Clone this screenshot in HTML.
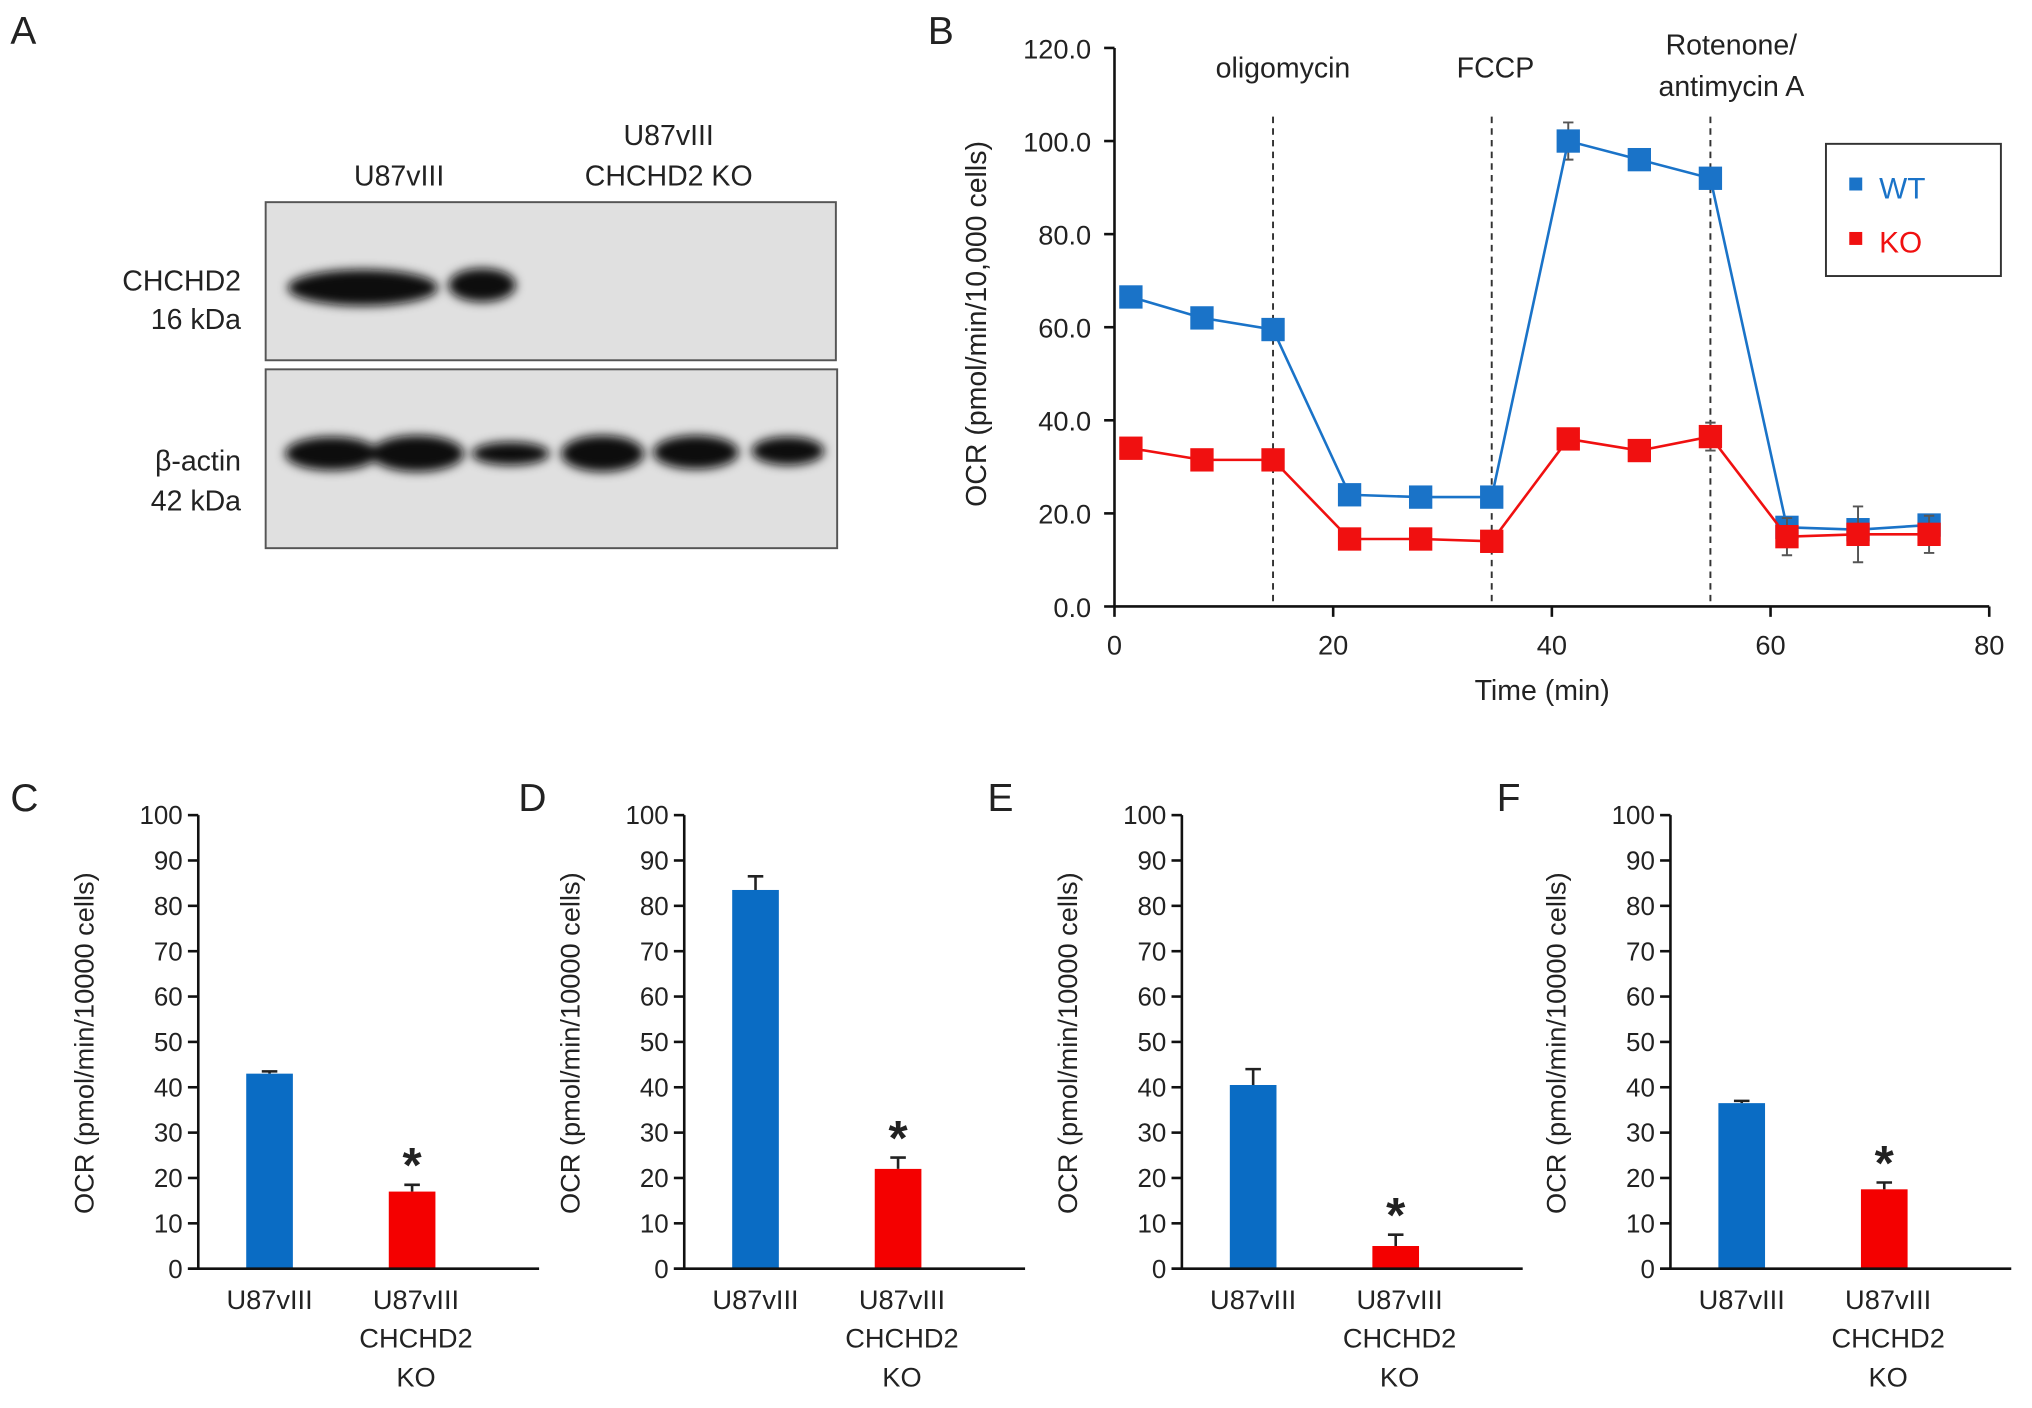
<!DOCTYPE html>
<html><head><meta charset="utf-8"><style>
html,body{margin:0;padding:0;background:#fff;}
svg{display:block;}
text{font-family:"Liberation Sans",sans-serif;fill:#222;}
</style></head><body>
<svg id="fig" width="2032" height="1408" viewBox="0 0 1568 1086.5" preserveAspectRatio="none">
<defs>
<filter id="blur" x="-20%" y="-50%" width="140%" height="200%"><feGaussianBlur stdDeviation="4"/></filter>
</defs>
<!-- Panel A -->
<g>
<text x="8" y="34" font-size="30">A</text>
<text x="308" y="143" font-size="22" text-anchor="middle">U87vIII</text>
<text x="516" y="112" font-size="22" text-anchor="middle">U87vIII</text>
<text x="516" y="143" font-size="22" text-anchor="middle">CHCHD2 KO</text>
<rect x="205" y="156" width="440" height="122" fill="#e0e0e0" stroke="#555" stroke-width="1.5"/>
<rect x="205" y="285" width="441" height="138" fill="#e0e0e0" stroke="#555" stroke-width="1.5"/>
<g filter="url(#blur)" fill="#0a0a0a">
<ellipse cx="280" cy="222" rx="58" ry="14"/><ellipse cx="372" cy="220" rx="26" ry="13"/>
</g>
<g filter="url(#blur)" fill="#0a0a0a">
<ellipse cx="256" cy="350" rx="36" ry="13"/><ellipse cx="322" cy="350" rx="36" ry="14"/><ellipse cx="394" cy="350" rx="30" ry="9"/>
<ellipse cx="465" cy="350" rx="32" ry="14"/><ellipse cx="537" cy="349" rx="33" ry="13"/><ellipse cx="608" cy="348" rx="28" ry="11"/>
</g>
<text x="186" y="224" font-size="22" text-anchor="end">CHCHD2</text>
<text x="186" y="254" font-size="22" text-anchor="end">16 kDa</text>
<text x="186" y="363" font-size="22" text-anchor="end">β-actin</text>
<text x="186" y="394" font-size="22" text-anchor="end">42 kDa</text>
</g>
<g id="panelB">
<text x="716" y="34" font-size="30">B</text>
</g>
<g id="bars"></g>
</svg>
<script>
const NS='http://www.w3.org/2000/svg';
function mk(tag,attrs,parent,txt){const e=document.createElementNS(NS,tag);for(const k in attrs)e.setAttribute(k,attrs[k]);if(txt!==undefined)e.textContent=txt;parent.appendChild(e);return e;}

// ---- Panel B data ----
const times=[1.5,8,14.5,21.5,28,34.5,41.5,48,54.5,61.5,68,74.5];
const wtValues=[66.5,62,59.5,24,23.5,23.5,100,96,92,17,16.5,17.5];
const wtErr=[0,0,0,0,0,0,4,0,0,0,0,0];
const koValues=[34,31.5,31.5,14.5,14.5,14,36,33.5,36.5,15,15.5,15.5];
const koErr=[0,0,0,0,0,0,0,0,3,4,6,4];
const yTicksB=[0,20,40,60,80,100,120];
const xTicksB=[0,20,40,60,80];
const injections=[14.5,34.5,54.5];
const injectionNames=['oligomycin','FCCP','Rotenone/ antimycin A'];

const B=document.getElementById('panelB');
const bx=v=>860+(v/80)*675;
const by=v=>468-(v/120)*431;
let e;
e=mk('line',{x1:860,y1:by(120),x2:860,y2:468,stroke:'#111','stroke-width':2},B);

e=mk('line',{x1:860,y1:468,x2:1535,y2:468,stroke:'#111','stroke-width':2},B);

yTicksB.forEach(t=>{
 e=mk('line',{x1:852,y1:by(t),x2:860,y2:by(t),stroke:'#111','stroke-width':2},B);
 
 e=mk('text',{x:842,y:by(t)+8,'font-size':21,'text-anchor':'end'},B,t.toFixed(1));
 
});
xTicksB.forEach(t=>{
 e=mk('line',{x1:bx(t),y1:468,x2:bx(t),y2:476,stroke:'#111','stroke-width':2},B);
 
 e=mk('text',{x:bx(t),y:505,'font-size':21,'text-anchor':'middle'},B,String(t));
 
});
e=mk('text',{x:1190,y:540,'font-size':22,'text-anchor':'middle'},B,'Time (min)');

e=mk('text',{x:0,y:0,'font-size':22,'text-anchor':'middle',transform:'translate(761,250) rotate(-90)'},B,'OCR (pmol/min/10,000 cells)');

injections.forEach((t,i)=>{
 e=mk('line',{x1:bx(t),y1:90,x2:bx(t),y2:466,stroke:'#333','stroke-width':1.5,'stroke-dasharray':'5,4'},B);
 
});
e=mk('text',{x:990,y:60,'font-size':22,'text-anchor':'middle'},B,'oligomycin');

e=mk('text',{x:1154,y:60,'font-size':22,'text-anchor':'middle'},B,'FCCP');

e=mk('text',{x:1336,y:42,'font-size':22,'text-anchor':'middle'},B,'Rotenone/');

e=mk('text',{x:1336,y:74,'font-size':22,'text-anchor':'middle'},B,'antimycin A');


function series(vals,errs,color,name){
 const g=mk('g',{},B);
 
 vals.forEach((v,i)=>{if(errs[i]>0){
  const x=bx(times[i]);
  e=mk('path',{d:`M${x},${by(v+errs[i])}V${by(v-errs[i])}M${x-4},${by(v+errs[i])}H${x+4}M${x-4},${by(v-errs[i])}H${x+4}`,stroke:'#555','stroke-width':1.5,fill:'none'},g);
  
 }});
 e=mk('polyline',{points:vals.map((v,i)=>bx(times[i])+','+by(v)).join(' '),fill:'none',stroke:color,'stroke-width':2},g);
 
 vals.forEach((v,i)=>{
  e=mk('rect',{x:bx(times[i])-9,y:by(v)-9,width:18,height:18,fill:color},g);
  
 });
}
series(wtValues,wtErr,'#1a73c8','wt');
series(koValues,koErr,'#f01010','ko');
e=mk('rect',{x:1409,y:111,width:135,height:102,fill:'#fff',stroke:'#333','stroke-width':1.5},B);

e=mk('rect',{x:1427,y:137,width:10,height:10,fill:'#1a73c8'},B);

e=mk('text',{x:1450,y:153,'font-size':23,fill:'#1a73c8',style:'fill:#1a73c8'},B,'WT');

e=mk('rect',{x:1427,y:179,width:10,height:10,fill:'#f01010'},B);

e=mk('text',{x:1450,y:195,'font-size':23,style:'fill:#f01010'},B,'KO');


// ---- Bar panels ----
const panelLetters=['C','D','E','F'];
const wtBars=[43,83.5,40.5,36.5];
const wtBarErr=[0.5,3,3.5,0.5];
const koBars=[17,22,5,17.5];
const koBarErr=[1.5,2.5,2.5,1.5];
const yTicksBar=[0,10,20,30,40,50,60,70,80,90,100];
const axisX=[153,528,912,1289];
const letterX=[8,400,762,1155];

const BG=document.getElementById('bars');
const yb=v=>979-(v/100)*350;
panelLetters.forEach((L,p)=>{
 const ax=axisX[p];
 const g=mk('g',{},BG);
 
 e=mk('text',{x:letterX[p],y:626,'font-size':30},g,L);
 
 const bars=[[wtBars[p],wtBarErr[p],'#0a6cc4',ax+55],[koBars[p],koBarErr[p],'#f40000',ax+165]];
 bars.forEach((b,i)=>{
  const [v,er,c,cx]=b;
  e=mk('path',{d:`M${cx},${yb(v)}V${yb(v+er)}M${cx-6},${yb(v+er)}H${cx+6}`,stroke:'#222','stroke-width':2,fill:'none'},g);
  
  e=mk('rect',{x:cx-18,y:yb(v),width:36,height:yb(0)-yb(v),fill:c},g);
  
 });
 e=mk('text',{x:ax+165,y:yb(koBars[p]+koBarErr[p])-2,'font-size':38,'text-anchor':'middle','font-weight':'bold'},g,'*');
 
 e=mk('line',{x1:ax,y1:yb(100),x2:ax,y2:979,stroke:'#111','stroke-width':2},g);
 
 e=mk('line',{x1:ax-8,y1:979,x2:ax+263,y2:979,stroke:'#111','stroke-width':2},g);
 
 yTicksBar.forEach(t=>{
  e=mk('line',{x1:ax-8,y1:yb(t),x2:ax,y2:yb(t),stroke:'#111','stroke-width':2},g);
  
  e=mk('text',{x:ax-12,y:yb(t)+7,'font-size':20,'text-anchor':'end'},g,String(t));
  
 });
 e=mk('text',{x:0,y:0,'font-size':21,'text-anchor':'middle',transform:`translate(${ax-81},805) rotate(-90)`},g,'OCR (pmol/min/10000 cells)');
 
 e=mk('text',{x:ax+55,y:1010,'font-size':21,'text-anchor':'middle'},g,'U87vIII');
 
 ['U87vIII','CHCHD2','KO'].forEach((s,k)=>{
  e=mk('text',{x:ax+168,y:1010+k*30,'font-size':21,'text-anchor':'middle'},g,s);
  
 });
});
</script>
</body></html>
